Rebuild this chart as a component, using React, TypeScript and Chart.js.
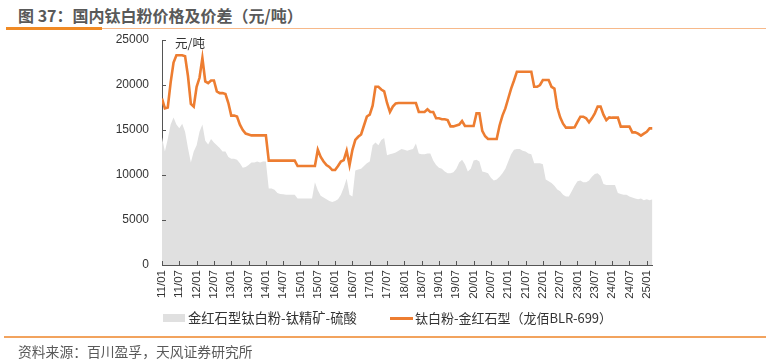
import React, { useEffect, useRef } from "react";
import { Chart, registerables } from "chart.js";

Chart.register(...registerables);

// x-axis tick labels (every 6 months, 2011/01 .. 2025/01)
const tickLabels = [
  "11/01", "11/07", "12/01", "12/07", "13/01", "13/07", "14/01", "14/07",
  "15/01", "15/07", "16/01", "16/07", "17/01", "17/07", "18/01", "18/07",
  "19/01", "19/07", "20/01", "20/07", "21/01", "21/07", "22/01", "22/07",
  "23/01", "23/07", "24/01", "24/07", "25/01",
];

// monthly values, 2011/01 .. 2025/03 (元/吨)
// 钛白粉-金红石型（龙佰BLR-699）
const priceBLR699 = [
  18500, 17400, 17500, 20300, 22500, 23300, 23300, 23300, 23200, 21000, 17900, 17600,
  19800, 20800, 23000, 20400, 20200, 20500, 20500, 19300, 19100, 19100, 19000, 18000,
  16600, 16600, 16500, 15600, 15000, 14600, 14500, 14400, 14400, 14400, 14400, 14400,
  14400, 11600, 11600, 11600, 11600, 11600, 11600, 11600, 11600, 11600, 11600, 11000,
  11000, 11000, 11000, 11000, 11000, 11000, 12800, 12000, 11500, 11100, 10900, 10550,
  10550, 11000, 11500, 11650, 12700, 11100, 12800, 13900, 14250, 14500, 15500, 16500,
  16700, 17700, 19800, 19800, 19500, 19300, 18000, 17000, 17600, 17950, 18000, 18000,
  18000, 18000, 18000, 18000, 18000, 17000, 17000, 17000, 17300, 17000, 17000, 16300,
  16300, 16200, 16200, 16100, 15400, 15400, 15500, 15600, 16000, 15450, 15450, 15450,
  15450, 16850, 16850, 14900, 14300, 14000, 14000, 14000, 14000, 15500, 16600, 17400,
  18500, 19600, 20500, 21480, 21480, 21480, 21480, 21480, 21480, 19800, 19800, 20000,
  20550, 20550, 20550, 19800, 19600, 17500, 16400, 15700, 15260, 15260, 15260, 15300,
  15900, 16480, 16480, 16300, 15850, 16300, 16850, 17600, 17600, 16700, 16100, 16400,
  16370, 16370, 16370, 15370, 15370, 15370, 15370, 14740, 14740, 14600, 14370, 14600,
  14800, 15180, 15180,
];

// 金红石型钛白粉-钛精矿-硫酸（价差）
const spreadRutile = [
  14200, 12600, 14000, 15600, 16400, 15600, 15200, 15700, 14800, 13000, 11400, 12600,
  13300, 14800, 15600, 13800, 13400, 14000, 13600, 13300, 13000, 12600, 12600, 12000,
  11800, 11800, 11700, 11300, 10800, 10900, 11100, 11400, 11400, 11500, 11400, 11500,
  11500, 8500, 8500, 8350, 8000, 7900, 7850, 7800, 7800, 7800, 7800, 7400,
  7400, 7400, 7400, 7400, 7400, 9200, 8300, 7700, 7500, 7300, 7100, 7000,
  7100, 7300, 7800, 8600, 9600, 7800, 7600, 10500, 10600, 10700, 11000, 11300,
  11500, 13300, 13600, 13300, 13900, 14100, 12200, 12300, 12400, 12500, 12700, 12900,
  12800, 12700, 12800, 12900, 13500, 12400, 12300, 12300, 12400, 12400, 11600, 11100,
  10800, 10700, 10400, 10200, 10200, 10300, 10700, 11400, 11700, 11200, 10400, 10700,
  11600, 11700, 11500, 10400, 10300, 10200, 9700, 9400, 9500, 9800, 10200, 10700,
  11500, 12300, 12800, 12900, 12900, 12700, 12600, 12400, 12300, 11300, 11300, 11300,
  11200, 9500, 9300, 9100, 8800, 8400, 8200, 7800, 7600, 7600, 8200, 8800,
  9300, 9400, 9200, 9200, 9400, 9800, 10100, 10200, 9900, 9000, 8900, 8900,
  8900, 8900, 8000, 7900, 7800, 7800, 7600, 7500, 7400, 7300, 7400, 7200,
  7300, 7200, 7300,
];

const yTicks = [0, 5000, 10000, 15000, 20000, 25000];

const seriesNames = ["金红石型钛白粉-钛精矿-硫酸", "钛白粉-金红石型（龙佰BLR-699）"];

const CJK = "'Noto Sans CJK SC', 'Noto Sans', sans-serif";
const LATIN = "Arial, 'Liberation Sans', sans-serif";
const ORANGE = "#ED7D31";
const GREY = "#E0E0E0";
const AXIS = "#555555";

const innerTicks = {
  id: "innerTicks",
  afterDraw(chart: any) {
    const { ctx, chartArea, scales } = chart;
    ctx.save();
    ctx.strokeStyle = AXIS;
    ctx.lineWidth = 1;
    ctx.beginPath();
    scales.x.ticks.forEach((t: any) => {
      const px = Math.round(scales.x.getPixelForValue(t.value)) + 0.5;
      ctx.moveTo(px, chartArea.bottom);
      ctx.lineTo(px, chartArea.bottom - 4);
    });
    scales.y.ticks.forEach((t: any) => {
      const py = Math.round(scales.y.getPixelForValue(t.value)) + 0.5;
      ctx.moveTo(chartArea.left, py);
      ctx.lineTo(chartArea.left + 4, py);
    });
    ctx.stroke();
    ctx.restore();
  },
};

export default function App() {
  const ref = useRef<HTMLCanvasElement | null>(null);

  useEffect(() => {
    if (!ref.current) return;
    const chart = new Chart(ref.current, {
      type: "line",
      data: {
        datasets: [
          {
            label: seriesNames[1],
            data: priceBLR699.map((v, i) => ({ x: i, y: v })),
            borderColor: ORANGE,
            borderWidth: 2.6,
            pointRadius: 0,
            fill: false,
            tension: 0,
            order: 0,
          },
          {
            label: seriesNames[0],
            data: spreadRutile.map((v, i) => ({ x: i, y: v })),
            borderColor: GREY,
            borderWidth: 0,
            backgroundColor: GREY,
            pointRadius: 0,
            fill: "origin",
            tension: 0,
            order: 1,
          },
        ],
      },
      options: {
        responsive: false,
        animation: false,
        events: [],
        layout: { padding: { left: 0, top: 40, right: 118.5, bottom: 0 } },
        plugins: { legend: { display: false }, tooltip: { enabled: false } },
        scales: {
          x: {
            type: "linear",
            min: 0,
            max: priceBLR699.length - 1,
            afterBuildTicks: (scale: any) => {
              scale.ticks = tickLabels.map((_, i) => ({ value: i * 6 }));
            },
            afterFit: (scale: any) => {
              scale.height = 96;
            },
            grid: { display: false, drawTicks: false },
            border: { display: true, color: AXIS, width: 1 },
            ticks: {
              autoSkip: false,
              maxRotation: 90,
              minRotation: 90,
              padding: 5,
              color: "#333",
              font: { family: LATIN, size: 11.5 },
              callback: (v: any) => tickLabels[Math.round(Number(v) / 6)] ?? "",
            },
          },
          y: {
            min: 0,
            max: 25000,
            afterBuildTicks: (scale: any) => {
              scale.ticks = yTicks.map((v) => ({ value: v }));
            },
            afterFit: (scale: any) => {
              scale.width = 162;
            },
            grid: { display: false, drawTicks: false },
            border: { display: true, color: AXIS, width: 1 },
            ticks: {
              padding: 13,
              color: "#333",
              font: { family: LATIN, size: 12 },
              callback: (v: any) => String(v),
            },
          },
        },
      },
      plugins: [innerTicks],
    });
    return () => chart.destroy();
  }, []);

  return (
    <div
      style={{
        position: "fixed",
        left: 0,
        top: 0,
        width: 771,
        height: 361,
        background: "#fff",
        fontFamily: CJK,
        overflow: "hidden",
      }}
    >
      <div
        style={{
          position: "absolute",
          left: 18,
          top: 4,
          fontSize: 16,
          lineHeight: "22px",
          fontWeight: "bold",
          color: "#595959",
          whiteSpace: "nowrap",
        }}
      >
        图 37：国内钛白粉价格及价差（元/吨）
      </div>
      <div style={{ position: "absolute", left: 6, top: 27, width: 96, height: 2.5, background: "#F08A24" }} />
      <div style={{ position: "absolute", left: 102, top: 28, width: 664, height: 1, background: "#F7B98A" }} />

      <canvas
        ref={ref}
        width={771}
        height={361}
        style={{ position: "absolute", left: 0, top: 0, width: 771, height: 361 }}
      />

      <div
        style={{
          position: "absolute",
          left: 175,
          top: 35,
          fontSize: 12.5,
          lineHeight: "16px",
          color: "#333",
          whiteSpace: "nowrap",
        }}
      >
        元/吨
      </div>

      {/* legend */}
      <div style={{ position: "absolute", left: 163, top: 314, width: 22, height: 8, background: GREY }} />
      <div
        style={{
          position: "absolute",
          left: 188,
          top: 309,
          fontSize: 13.3,
          lineHeight: "18px",
          color: "#333",
          whiteSpace: "nowrap",
        }}
      >
        {seriesNames[0]}
      </div>
      <div style={{ position: "absolute", left: 390, top: 316.5, width: 23, height: 3, background: ORANGE }} />
      <div
        style={{
          position: "absolute",
          left: 415,
          top: 309,
          fontSize: 13,
          lineHeight: "18px",
          color: "#333",
          whiteSpace: "nowrap",
        }}
      >
        {seriesNames[1]}
      </div>

      <div style={{ position: "absolute", left: 4, top: 336, width: 762, height: 2, background: "#F2A35E" }} />
      <div
        style={{
          position: "absolute",
          left: 18,
          top: 342,
          fontSize: 13.8,
          lineHeight: "18px",
          color: "#595959",
          whiteSpace: "nowrap",
        }}
      >
        资料来源：百川盈孚，天风证券研究所
      </div>
    </div>
  );
}
